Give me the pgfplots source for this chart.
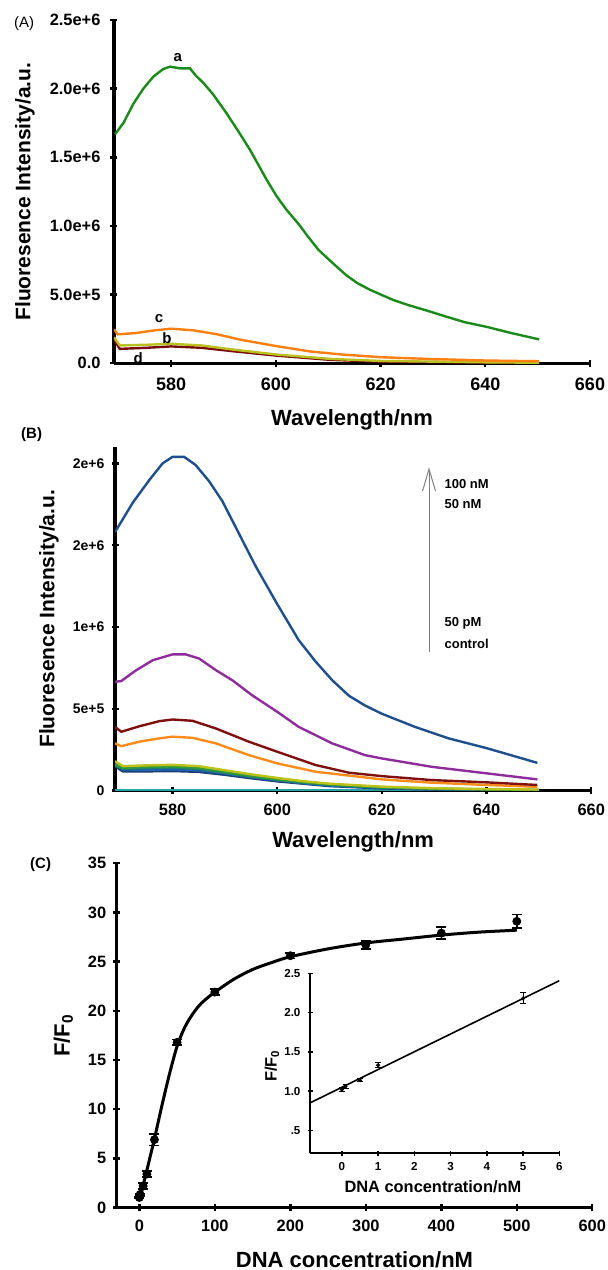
\documentclass[border=0pt]{standalone}
\usepackage{pgfplots}
\pgfplotsset{compat=1.18}
\usepackage{fontspec}
\setmainfont{Liberation Sans}
\usetikzlibrary{arrows.meta}
\definecolor{gA}{HTML}{1A8A1A}
\definecolor{oA}{HTML}{FF8010}
\definecolor{yA}{HTML}{BAC020}
\definecolor{rA}{HTML}{7A0A0A}
\definecolor{bTop}{HTML}{1F4E8C}
\definecolor{pB}{HTML}{8E2C9C}
\definecolor{rB}{HTML}{7F1010}
\definecolor{oB}{HTML}{FF8C1A}
\definecolor{yB}{HTML}{BDC21A}
\definecolor{gB}{HTML}{2E9A3A}
\definecolor{tB}{HTML}{1E7E6E}
\definecolor{bB}{HTML}{2060B0}
\definecolor{nB}{HTML}{1A3E78}
\definecolor{cB}{HTML}{2AA3A3}
\pgfplotsset{
  base/.style={scale only axis, axis x line*=bottom, axis y line*=left,
    axis line style={line width=1.6pt},
    every tick/.style={black, line width=1.2pt},
    major tick length=3.5pt, tick align=center,
    /pgf/number format/assume math mode=true,
    scaled ticks=false, clip mode=individual,
    xlabel style={font=\bfseries\fontsize{11}{13}\selectfont, anchor=center},
    ylabel style={font=\bfseries\fontsize{10.5}{12}\selectfont, anchor=center},
  },
}
\begin{document}
\begin{tikzpicture}
\useasboundingbox (0,0) rectangle (304pt,635pt);
% ---------------- Panel A
\begin{axis}[base, at={(57pt,453.35pt)}, anchor=south west,
  width=238pt, height=171.65pt,
  xmin=569.1, xmax=660, ymin=0, ymax=2.5e6,
  xtick={580,600,620,640,660},
  ytick={0,5e5,1e6,1.5e6,2e6,2.5e6},
  yticklabels={0.0,5.0e+5,1.0e+6,1.5e+6,2.0e+6,2.5e+6},
  xticklabel style={font=\bfseries\fontsize{9}{10}\selectfont, yshift=-2pt},
  yticklabel style={font=\bfseries\fontsize{8.2}{10}\selectfont, xshift=-1.5pt},
  xlabel={Wavelength/nm}, ylabel={Fluoresence Intensity/a.u.},
  xlabel style={at={(axis description cs:0.5,-0.165)}},
  ylabel style={at={(axis description cs:-0.187,0.5)}},
]
\addplot[rA, line width=1.2pt] coordinates {(569.1,0.17e6)(570.2,0.105e6)(575.4,0.113e6)(580,0.123e6)(585.8,0.113e6)(591.8,0.088e6)(600.1,0.056e6)(610.4,0.025e6)(620.2,0.012e6)(640.3,0.005e6)(650.3,0.002e6)};
\addplot[yA, line width=1.2pt] coordinates {(569.1,0.19e6)(570.2,0.13e6)(575.4,0.135e6)(580,0.142e6)(585.8,0.13e6)(591.8,0.10e6)(600.1,0.064e6)(610.4,0.032e6)(620.2,0.017e6)(640.3,0.007e6)(650.3,0.004e6)};
\addplot[oA, line width=1.2pt] coordinates {(569.1,0.248e6)(569.8,0.211e6)(573.2,0.22e6)(576.9,0.24e6)(580,0.252e6)(584.3,0.24e6)(588.8,0.211e6)(593.2,0.172e6)(600.1,0.125e6)(606.6,0.086e6)(612.6,0.064e6)(620.2,0.044e6)(629,0.032e6)(640.3,0.02e6)(650.3,0.015e6)};
\addplot[gA, line width=1.2pt] coordinates {(569.3,1.668e6)(570.9,1.75e6)(572.8,1.89e6)(574.7,2.00e6)(576.6,2.087e6)(578.5,2.143e6)(579.8,2.16e6)(581.7,2.148e6)(583.6,2.148e6)(584.6,2.10e6)(586.2,2.04e6)(588,1.96e6)(590.6,1.82e6)(593,1.68e6)(595.1,1.553e6)(598.2,1.34e6)(600.1,1.22e6)(602,1.12e6)(604.4,1.012e6)(606,0.93e6)(608.1,0.828e6)(610,0.76e6)(611.9,0.694e6)(613.5,0.64e6)(615.6,0.583e6)(618,0.535e6)(620.2,0.498e6)(622.5,0.46e6)(625.3,0.424e6)(629,0.382e6)(632.7,0.338e6)(636,0.30e6)(640.3,0.265e6)(645,0.22e6)(650.3,0.174e6)};
\node[font=\bfseries\fontsize{7.5}{8}\selectfont] at (axis cs:581.3,2.23e6) {a};
\node[font=\bfseries\fontsize{7.5}{8}\selectfont] at (axis cs:579.2,0.18e6) {b};
\node[font=\bfseries\fontsize{7.5}{8}\selectfont] at (axis cs:577.7,0.325e6) {c};
\node[font=\bfseries\fontsize{7.5}{8}\selectfont] at (axis cs:573.7,0.04e6) {d};
\node[font=\fontsize{7.5}{8}\selectfont] at (axis description cs:-0.189,0.988) {(A)};
\end{axis}
% ---------------- Panel B
\begin{axis}[base, at={(57.5pt,239.65pt)}, anchor=south west,
  width=238.15pt, height=171.85pt,
  xmin=569, xmax=660, ymin=0, ymax=2.1e6,
  xtick={580,600,620,640,660},
  ytick={0,5e5,1e6,1.5e6,2e6},
  yticklabels={0,5e+5,1e+6,2e+6,2e+6},
  xticklabel style={font=\bfseries\fontsize{8.2}{10}\selectfont, yshift=-1.5pt},
  yticklabel style={font=\bfseries\fontsize{7}{9}\selectfont},
  xlabel={Wavelength/nm}, ylabel={Fluoresence Intensity/a.u.},
  xlabel style={at={(axis description cs:0.5,-0.149)}},
  ylabel style={at={(axis description cs:-0.1386,0.5)}},
]
\addplot[cB, line width=1.2pt] coordinates {(569,0)(600,0)(630,0)(650,0)};
\addplot[nB, line width=1.2pt] coordinates {(569,0.15e6)(570.5,0.118e6)(575,0.118e6)(580,0.12e6)(585,0.115e6)(590,0.097e6)(595,0.076e6)(600,0.057e6)(610,0.028e6)(620,0.014e6)(630,0.007e6)(640,0.004e6)(650,0.002e6)};
\addplot[bB, line width=1.2pt] coordinates {(569,0.17e6)(570.5,0.13e6)(575,0.128e6)(580,0.13e6)(585,0.125e6)(590,0.105e6)(595,0.083e6)(600,0.063e6)(605,0.045e6)(610,0.032e6)(620,0.016e6)(630,0.009e6)(640,0.005e6)(650,0.003e6)};
\addplot[tB, line width=1.2pt] coordinates {(569,0.155e6)(570.5,0.133e6)(575,0.138e6)(580,0.141e6)(585,0.133e6)(590,0.109e6)(595,0.086e6)(600,0.066e6)(605,0.049e6)(610,0.036e6)(620,0.019e6)(630,0.011e6)(640,0.007e6)(650,0.004e6)};
\addplot[gB, line width=1.2pt] coordinates {(569,0.16e6)(570.5,0.14e6)(575,0.145e6)(580,0.148e6)(585,0.14e6)(590,0.115e6)(595,0.09e6)(600,0.07e6)(605,0.052e6)(610,0.038e6)(620,0.02e6)(630,0.012e6)(640,0.008e6)(650,0.005e6)};
\addplot[yB, line width=1.2pt] coordinates {(569,0.18e6)(570.5,0.15e6)(575,0.155e6)(580,0.158e6)(585,0.15e6)(590,0.125e6)(595,0.10e6)(600,0.078e6)(605,0.058e6)(610,0.043e6)(620,0.025e6)(630,0.015e6)(640,0.01e6)(650,0.007e6)};
\addplot[oB, line width=1.2pt] coordinates {(569,0.289e6)(570.2,0.272e6)(573.7,0.30e6)(577.5,0.32e6)(580,0.33e6)(583.8,0.323e6)(588.3,0.289e6)(594.6,0.217e6)(600,0.167e6)(607.3,0.116e6)(620,0.069e6)(629.5,0.049e6)(640,0.035e6)(649.7,0.024e6)};
\addplot[rB, line width=1.2pt] coordinates {(569,0.39e6)(570.2,0.36e6)(573.7,0.394e6)(577.5,0.425e6)(580,0.435e6)(583.8,0.427e6)(588.3,0.38e6)(594.6,0.299e6)(600,0.238e6)(607.3,0.157e6)(613.7,0.11e6)(620,0.089e6)(629.5,0.065e6)(640,0.051e6)(649.7,0.035e6)};
\addplot[pB, line width=1.2pt] coordinates {(569,0.665e6)(570.2,0.67e6)(573,0.735e6)(576.2,0.797e6)(580,0.833e6)(582.5,0.833e6)(585.1,0.807e6)(588.3,0.736e6)(591.4,0.675e6)(595.2,0.583e6)(600,0.482e6)(604.1,0.39e6)(610.5,0.289e6)(616.8,0.217e6)(620,0.197e6)(629.5,0.146e6)(640,0.106e6)(649.7,0.069e6)};
\addplot[bTop, line width=1.2pt] coordinates {(569,1.58e6)(572.4,1.76e6)(575.6,1.90e6)(578.1,2.00e6)(580,2.04e6)(582.2,2.04e6)(584.4,1.99e6)(587,1.89e6)(589.5,1.77e6)(592.7,1.57e6)(595.9,1.37e6)(600,1.14e6)(604.1,0.92e6)(607.3,0.79e6)(610.5,0.675e6)(613.7,0.58e6)(616.8,0.52e6)(620,0.47e6)(626.3,0.39e6)(632.7,0.32e6)(640,0.26e6)(645.4,0.21e6)(649.7,0.17e6)};
\draw[gray, line width=0.5pt, -{Straight Barb[length=11pt,width=6.5pt]}] (axis cs:629,0.848e6) -- (axis cs:629,1.976e6);
\begin{scope}[every node/.style={font=\bfseries\fontsize{6.5}{8}\selectfont, anchor=west, inner sep=0pt}]
\node at (axis cs:631.9,1.874e6) {100 nM};
\node at (axis cs:631.9,1.752e6) {50 nM};
\node at (axis cs:631.9,1.021e6) {50 pM};
\node at (axis cs:631.9,0.899e6) {control};
\end{scope}
\node[font=\bfseries\fontsize{7.5}{8}\selectfont] at (axis description cs:-0.175,1.035) {(B)};
\end{axis}
% ---------------- Panel C
\begin{axis}[base, at={(58.35pt,31.25pt)}, anchor=south west,
  width=237.8pt, height=172.1pt,
  xmin=-30, xmax=600, ymin=0, ymax=35,
  xtick={0,100,...,600}, ytick={0,5,...,35},
  ticklabel style={font=\bfseries\fontsize{8.2}{10}\selectfont},
  xticklabel style={yshift=-1pt},
  xlabel={DNA concentration/nM}, ylabel={F/F\textsubscript{0}},
  xlabel style={at={(axis description cs:0.5,-0.1525)}},
  ylabel style={at={(axis description cs:-0.112,0.5)}, font=\bfseries\fontsize{11}{13}\selectfont},
]
\addplot[black, line width=1.5pt, smooth] coordinates {(0,0.7)(10,3.8)(20,7.0)(30,10.4)(40,13.6)(50,16.4)(60,18.3)(70,19.6)(80,20.6)(90,21.3)(100,21.9)(125,23.2)(150,24.2)(175,24.9)(200,25.5)(250,26.3)(300,26.9)(350,27.3)(400,27.7)(450,28.0)(500,28.2)};
\addplot[black, only marks, mark=*, mark size=2pt,
  error bars/.cd, y dir=both, y explicit,
  error bar style={line width=0.8pt, black},
  error mark options={rotate=90, mark size=2.5pt, line width=0.8pt, black}]
  table[x=x, y=y, y error=e] {
x y e
0 1.02 0.05
0.05 1.06 0.03
0.5 1.14 0.03
1 1.33 0.05
5 2.18 0.3
10 3.4 0.3
20 6.9 0.6
50 16.8 0.3
100 21.9 0.3
200 25.6 0.3
300 26.7 0.4
400 27.9 0.6
500 29.1 0.7
};
\node[font=\bfseries\fontsize{7.5}{8}\selectfont] at (axis description cs:-0.16,0.995) {(C)};
\end{axis}
% ---------------- Inset
\begin{axis}[base, at={(155pt,58.35pt)}, anchor=south west,
  width=124.65pt, height=90pt,
  axis line style={line width=1pt},
  every tick/.style={black, line width=0.8pt}, major tick length=2.5pt,
  xmin=-0.88, xmax=6, ymin=0.21, ymax=2.5,
  xtick={0,1,...,6}, ytick={0.5,1,1.5,2,2.5},
  yticklabels={.5,1.0,1.5,2.0,2.5},
  ticklabel style={font=\bfseries\fontsize{5.8}{7}\selectfont},
  xlabel={DNA concentration/nM}, ylabel={F/F\textsubscript{0}},
  xlabel style={at={(axis description cs:0.493,-0.187)}, font=\bfseries\fontsize{8.2}{10}\selectfont},
  ylabel style={at={(axis description cs:-0.152,0.485)}, font=\bfseries\fontsize{8.2}{10}\selectfont},
]
\addplot[black, line width=0.8pt] coordinates {(-0.88,0.851)(6,2.406)};
\addplot[black, only marks, mark=*, mark size=0.8pt,
  error bars/.cd, y dir=both, y explicit,
  error bar style={line width=0.5pt, black},
  error mark options={rotate=90, mark size=1.5pt, line width=0.5pt, black}]
  table[x=x, y=y, y error=e] {
x y e
0 1.02 0.03
0.1 1.06 0.02
0.5 1.14 0.02
1 1.33 0.03
5 2.18 0.07
};
\end{axis}
\end{tikzpicture}
\end{document}
